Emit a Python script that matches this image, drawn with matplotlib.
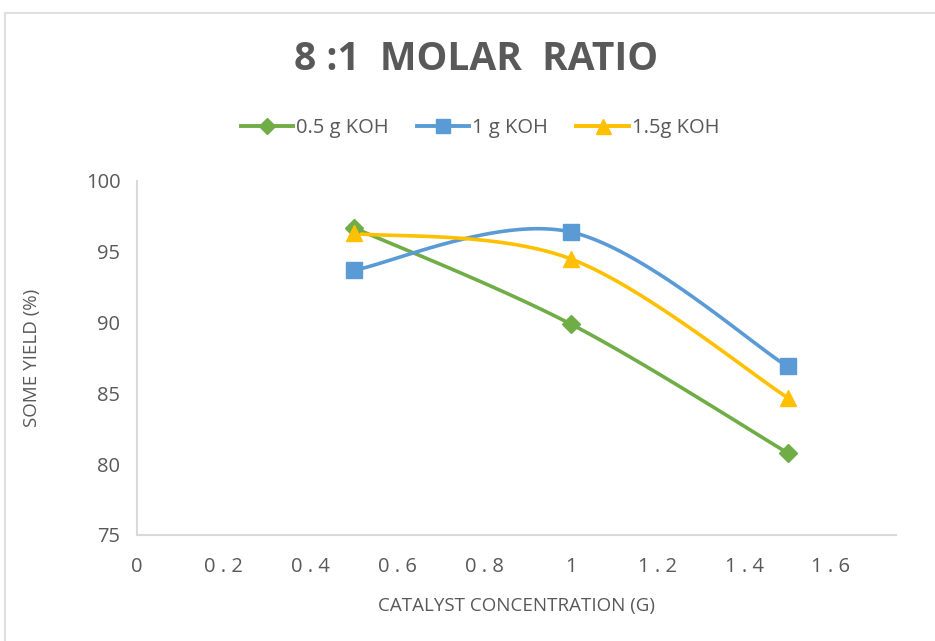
import numpy as np
import matplotlib
matplotlib.use('Agg')
import matplotlib.pyplot as plt
from matplotlib.patches import Rectangle
from matplotlib.lines import Line2D

plt.rcParams['font.family'] = ['Open Sans', 'DejaVu Sans']

# data
conc = [0.5, 1.0, 1.5]
koh_05 = [96.7, 89.9, 80.8]
koh_1 = [93.7, 96.4, 86.9]
koh_15 = [96.3, 94.5, 84.7]
series_names = ['0.5 g KOH', '1 g KOH', '1.5g KOH']
xticks = [0, 0.2, 0.4, 0.6, 0.8, 1, 1.2, 1.4, 1.6]
yticks = [75, 80, 85, 90, 95, 100]

GREEN = '#70AD47'
BLUE = '#5B9BD5'
GOLD = '#FFC000'
TXT = '#595959'
GRID = '#D9D9D9'


def excel_smooth(x, y, n=60):
    # bezier smoothing the way excel does it (control points = neighbour diff / 6)
    x = np.asarray(x, float)
    y = np.asarray(y, float)
    P = np.column_stack([x, y])
    m = len(P)
    out = []
    for i in range(m - 1):
        p0 = P[i]
        p3 = P[i + 1]
        prev = P[i - 1] if i > 0 else P[i]
        nxt = P[i + 2] if i + 2 < m else P[i + 1]
        c1 = p0 + (p3 - prev) / 6.0
        c2 = p3 - (nxt - p0) / 6.0
        t = np.linspace(0, 1, n)[:, None]
        seg = ((1 - t) ** 3) * p0 + 3 * ((1 - t) ** 2) * t * c1 + 3 * (1 - t) * t ** 2 * c2 + t ** 3 * p3
        out.append(seg if i == 0 else seg[1:])
    out = np.vstack(out)
    return out[:, 0], out[:, 1]


fig = plt.figure(figsize=(9.35, 6.41), dpi=100)
W, H = 935, 641
ax = fig.add_axes([137 / W, 1 - 535 / H, (896 - 137) / W, (535 - 181) / H])

# chart border
fig.patches.append(Rectangle((5 / W, -0.05), 1.2, 1 - 13 / H + 0.05, transform=fig.transFigure,
                             fill=False, edgecolor=GRID, lw=1.2))

styles = [(koh_05, GREEN, 'D', 9), (koh_1, BLUE, 's', 11), (koh_15, GOLD, '^', 12)]
for (vals, col, mk, ms), name in zip(styles, series_names):
    sx, sy = excel_smooth(conc, vals)
    ax.plot(sx, sy, color=col, lw=2.6, solid_capstyle='round', zorder=2)
    ax.plot(conc, vals, linestyle='none', marker=mk, markersize=ms, color=col, zorder=3)

ax.set_xlim(0, 1.75)
ax.set_ylim(75, 100)
ax.set_xticks(xticks)
ax.set_xticklabels([('%g' % v).replace('.', ' . ') if v != int(v) else '%d' % v for v in xticks])
ax.set_yticks(yticks)
for s in ['top', 'right']:
    ax.spines[s].set_visible(False)
for s in ['left', 'bottom']:
    ax.spines[s].set_color(GRID)
    ax.spines[s].set_linewidth(1.5)
ax.tick_params(length=0, labelsize=14.5, labelcolor=TXT, pad=12)
ax.tick_params(axis='x', pad=16)

ax.set_xlabel('CATALYST CONCENTRATION (G)', fontsize=13.5, color=TXT, labelpad=14)
ax.set_ylabel('SOME YIELD (%)', fontsize=13.5, color=TXT, labelpad=32)

fig.text(476 / W, 1 - 60 / H, '8 :1  MOLAR  RATIO', ha='center', va='center',
         fontsize=28, fontweight='bold', color=TXT)

handles = [Line2D([], [], color=c, lw=2.8, marker=m, markersize=ms * 0.9)
           for (_, c, m, ms) in styles]
leg = fig.legend(handles, series_names, loc='center', bbox_to_anchor=(480 / W, 1 - 128 / H),
                 ncol=3, frameon=False, fontsize=14.5, handlelength=2.6, handletextpad=0.15,
                 columnspacing=1.4, labelcolor=TXT)

fig.savefig('out.png', dpi=100)
